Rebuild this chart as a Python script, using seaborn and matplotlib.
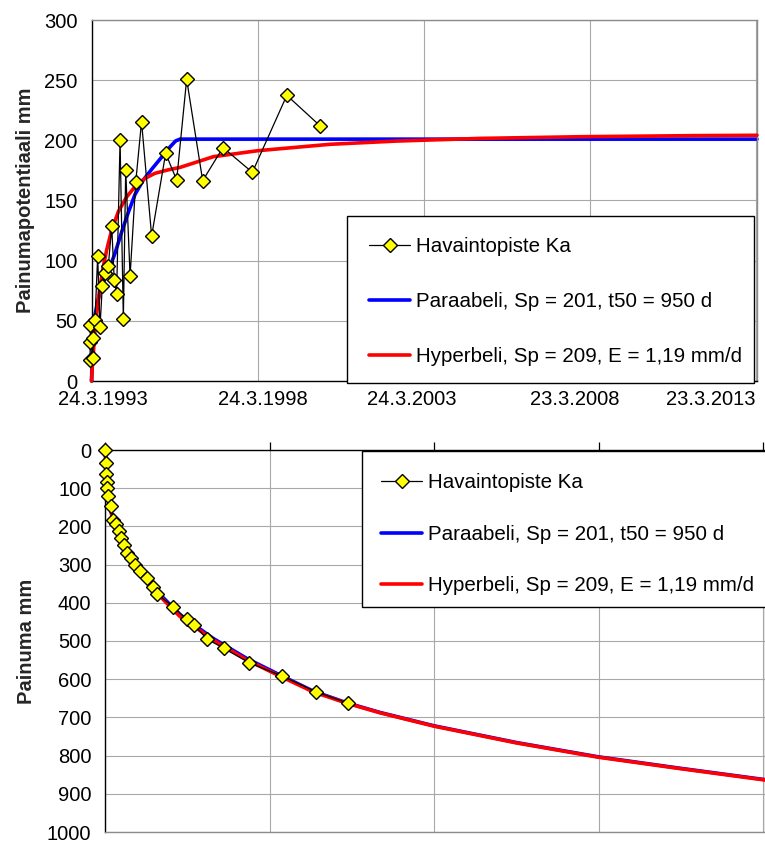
import matplotlib
matplotlib.use("Agg")
import matplotlib.pyplot as plt
from matplotlib.patches import Rectangle
from matplotlib.transforms import ScaledTranslation
import pandas as pd
import seaborn as sns

# ---------------- data (days counted from 24.3.1993) ----------------
tick_days = [0, 1826, 3652, 5478, 7304]
tick_labels = ["24.3.1993", "24.3.1998", "24.3.2003", "23.3.2008", "23.3.2013"]

series_names = ["Havaintopiste Ka",
                "Paraabeli, Sp = 201, t50 = 950 d",
                "Hyperbeli, Sp = 209, E = 1,19 mm/d"]

# upper chart: settlement potential
obs_top_days = [-16, -14, -12, 13, 20, 38, 68, 93, 119, 148, 185, 222, 250, 276,
                314, 350, 376, 424, 486, 550, 661, 815, 936, 1046, 1222, 1445,
                1768, 2147, 2513]
obs_top_vals = [17.5, 32.7, 46.5, 19.0, 35.5, 50.7, 103.9, 44.6, 79.2, 89.5, 95.6,
                128.8, 83.9, 72.3, 200.3, 51.5, 175.4, 87.3, 165.1, 215.5, 120.5,
                189.2, 167.0, 250.7, 166.5, 194.0, 173.4, 237.4, 212.0]

para_top_days = [0, 11, 22, 38, 75, 112, 167, 203, 258, 332, 404, 478, 569, 662,
                 771, 863, 925, 973, 7315]
para_top_vals = [0, 25, 42, 55, 68, 78, 89.5, 95, 106, 124, 140, 155, 167, 176,
                 186, 194.5, 199.5, 201, 201]

hyp_top_days = [0, 9, 20, 38, 57, 93, 130, 167, 222, 295, 387, 478, 588, 698, 844,
                973, 1339, 1830, 2621, 3354, 4270, 5369, 6614, 7315]
hyp_top_vals = [0, 12, 23, 42, 56, 78, 95, 109, 125.5, 140.7, 153, 161.5, 168.4,
                172.6, 175.5, 177.5, 186.4, 191.4, 196.7, 199.4, 201.6, 203.0,
                203.9, 204.2]

# lower chart: settlement
obs_bot_days = [0, 3, 6, 16, 22, 33, 60, 89, 115, 149, 174, 207, 237, 285, 329, 385,
                459, 526, 577, 755, 904, 988, 1129, 1314, 1598, 1964, 2338, 2697]
obs_bot_vals = [0, 33, 64, 83, 100, 120, 146, 183, 194, 211, 231, 249, 269, 283,
                301, 318, 336, 359, 378, 410, 443, 458, 495, 519, 557, 592, 633, 663]

para_bot_days = [0, 13, 30, 52, 85, 130, 174, 230, 285, 385, 496, 607, 829, 1196,
                 1573, 1939, 2306, 2683, 3049, 3649, 4568, 5467, 6377, 7325]
para_bot_vals = [0, 68, 117, 147, 181, 206, 229, 258, 280, 313, 347, 378, 431, 493,
                 546, 589, 631, 662, 687, 722, 766, 803, 833, 863]

hyp_bot_days = [0, 13, 30, 52, 85, 130, 174, 230, 285, 385, 496, 607, 829, 1196,
                1573, 1939, 2306, 2683, 3049, 3649, 4568, 5467, 6377, 7325]
hyp_bot_vals = [0, 70, 120, 150, 185, 210, 232, 262, 284, 318, 352, 383, 436, 497,
                550, 592, 633, 663, 688, 723, 767, 804, 834, 864]

top_yticks = [0, 50, 100, 150, 200, 250, 300]
bot_yticks = [0, 100, 200, 300, 400, 500, 600, 700, 800, 900, 1000]

# ---------------- style ----------------
sns.set_theme(style="white")
plt.rcParams["font.family"] = ["Liberation Sans", "DejaVu Sans"]
plt.rcParams["axes.unicode_minus"] = False

W, H = 765, 847
fig = plt.figure(figsize=(W / 100, H / 100), dpi=100)
fig.patch.set_facecolor("white")

def fx(px):
    return px / W

def fy(py):
    return 1 - py / H

TOP_L, TOP_R = 91.5, 757
BOT_L, BOT_R = 105.3, 765
ax1 = fig.add_axes([fx(TOP_L), fy(381), (TOP_R - TOP_L) / W, (381 - 20) / H])
ax2 = fig.add_axes([fx(BOT_L), fy(832), (BOT_R - BOT_L) / W, (832 - 450) / H])

GRID = "#a8a8a8"
BORDER = "#8c8c8c"
TICK_FS = 14.5
LEG_FS = 14.8

line_blue = dict(color="#0000ff", linewidth=2.6, zorder=2)
line_red = dict(color="#ff0000", linewidth=2.6, zorder=3)
obs_style = dict(color="black", linewidth=0.9, marker="D", markersize=7.4,
                 markerfacecolor="#ffff00", markeredgecolor="black",
                 markeredgewidth=1.0, zorder=5)

def draw(ax, od, ov, pd_, pv, hd, hv):
    df_o = pd.DataFrame({"d": od, "v": ov})
    df_p = pd.DataFrame({"d": pd_, "v": pv})
    df_h = pd.DataFrame({"d": hd, "v": hv})
    sns.lineplot(data=df_p, x="d", y="v", ax=ax, sort=False, estimator=None,
                 label=series_names[1], **line_blue)
    sns.lineplot(data=df_h, x="d", y="v", ax=ax, sort=False, estimator=None,
                 label=series_names[2], **line_red)
    sns.lineplot(data=df_o, x="d", y="v", ax=ax, sort=False, estimator=None,
                 label=series_names[0], **obs_style)
    for ln in ax.get_lines():
        ln.set_clip_on(False)
    if ax.get_legend() is not None:
        ax.get_legend().remove()

draw(ax1, obs_top_days, obs_top_vals, para_top_days, para_top_vals,
     hyp_top_days, hyp_top_vals)
draw(ax2, obs_bot_days, obs_bot_vals, para_bot_days, para_bot_vals,
     hyp_bot_days, hyp_bot_vals)

# ---------- upper axes ----------
TOP_XMAX = 7315
ax1.set_xlim(0, TOP_XMAX)
ax1.set_ylim(0, 300)
ax1.set_xticks(tick_days)
ax1.set_xticklabels(tick_labels)
ax1.set_yticks(top_yticks)
ax1.set_xlabel("")
ax1.set_ylabel("Painumapotentiaali mm", fontsize=14.5, fontweight="bold")
ax1.yaxis.label.set_verticalalignment("center")
ax1.yaxis.set_label_coords((26 - TOP_L) / (TOP_R - TOP_L), 0.5)
ax1.grid(True, color=GRID, linewidth=0.8)
ax1.set_axisbelow(True)
ax1.tick_params(axis="both", which="major", direction="out", length=5.5,
                width=0.9, color="black", labelsize=TICK_FS, labelcolor="black")
ax1.tick_params(axis="y", pad=4.5)
ax1.tick_params(axis="x", pad=1.0)
for s in ["left", "bottom"]:
    ax1.spines[s].set_color("black")
    ax1.spines[s].set_linewidth(1.0)
for s in ["top", "right"]:
    ax1.spines[s].set_color(BORDER)
    ax1.spines[s].set_linewidth(1.0)

# Excel-style placement of the date labels (kept inside the chart area)
label_centers_px = [102.5, 263.3, 412.0, 575.0, 710.5]
for lab, c, d in zip(ax1.get_xticklabels(), label_centers_px, tick_days):
    tick_px = TOP_L + d * (TOP_R - TOP_L) / TOP_XMAX
    lab.set_transform(lab.get_transform() +
                      ScaledTranslation((c - tick_px) / 100, 0, fig.dpi_scale_trans))

# ---------- lower axes ----------
ax2.set_xlim(0, 7323)
ax2.set_ylim(1000, 0)
ax2.set_xticks(tick_days)
ax2.set_xticklabels([])
ax2.set_yticks(bot_yticks)
ax2.set_xlabel("")
ax2.set_ylabel("Painuma mm", fontsize=14.5, fontweight="bold")
ax2.yaxis.label.set_verticalalignment("center")
ax2.yaxis.set_label_coords((27 - BOT_L) / (BOT_R - BOT_L), 0.5)
ax2.grid(True, color=GRID, linewidth=0.8)
ax2.set_axisbelow(True)
ax2.xaxis.tick_top()
ax2.tick_params(axis="both", which="major", direction="out", length=5.5,
                width=0.9, color="black", labelsize=TICK_FS, labelcolor="black")
ax2.tick_params(axis="x", labeltop=False, labelbottom=False)
ax2.tick_params(axis="y", pad=4.5)
for s in ["left", "top"]:
    ax2.spines[s].set_color("black")
    ax2.spines[s].set_linewidth(1.0)
for s in ["bottom", "right"]:
    ax2.spines[s].set_color(BORDER)
    ax2.spines[s].set_linewidth(1.0)

# ---------- legends ----------
def make_legend(ax, box, handle_x, row1_y, spacing):
    handles, labels = ax.get_legend_handles_labels()
    order = [labels.index(n) for n in series_names]
    handles = [handles[i] for i in order]
    labels = [labels[i] for i in order]
    x0, y0, x1, y1 = box
    rect = Rectangle((fx(x0), fy(y1)), (x1 - x0) / W, (y1 - y0) / H,
                     transform=fig.transFigure, facecolor="white",
                     edgecolor="black", linewidth=1.0, zorder=4)
    fig.add_artist(rect)
    fs_px = LEG_FS * 100 / 72
    row_h = 0.91 * fs_px
    leg = fig.legend(handles, labels, loc="upper left",
                     bbox_to_anchor=(fx(handle_x), fy(row1_y - 0.4 * fs_px)),
                     bbox_transform=fig.transFigure, frameon=False,
                     borderpad=0, borderaxespad=0, fontsize=LEG_FS,
                     handlelength=2.0, handletextpad=0.28,
                     labelspacing=(spacing - row_h) / fs_px,
                     numpoints=1)
    leg.set_zorder(5)
    for t in leg.get_texts():
        t.set_color("black")
    return leg

make_legend(ax1, (347, 216, 754, 383), 369, 245, 55)
make_legend(ax2, (362.3, 450.7, 800, 606.7), 381, 481.7, 51)

fig.savefig("out.png", dpi=100)
